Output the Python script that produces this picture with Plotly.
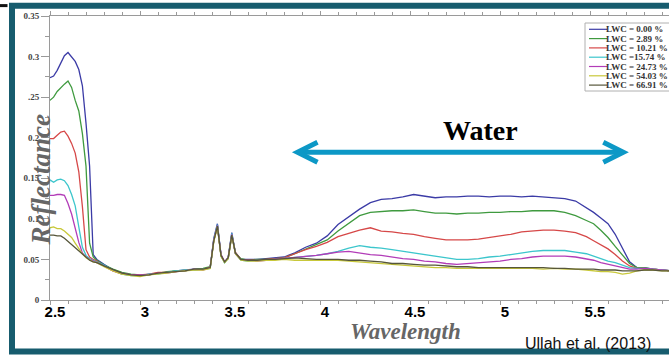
import plotly.graph_objects as go

# ---------------- data ----------------
wavelength = [2.50, 2.52, 2.54, 2.56, 2.58, 2.60, 2.62, 2.64, 2.66, 2.68, 2.70, 2.72, 2.74, 2.76,
              2.80, 2.85, 2.90, 2.95, 3.00, 3.05, 3.10, 3.15, 3.20, 3.25, 3.30, 3.35, 3.39, 3.41,
              3.43, 3.45, 3.47, 3.49, 3.51, 3.53, 3.56, 3.60, 3.65, 3.70, 3.75, 3.80,
              3.86, 3.92, 3.98, 4.04, 4.10, 4.16, 4.22, 4.28, 4.34, 4.40,
              4.46, 4.52, 4.58, 4.64, 4.70, 4.76, 4.82, 4.88, 4.94, 5.00,
              5.06, 5.12, 5.18, 5.24, 5.30, 5.36, 5.42, 5.48, 5.52, 5.56,
              5.60, 5.64, 5.68, 5.72, 5.76, 5.80, 5.85, 5.90, 5.95]

lwc_labels = ["LWC = 0.00 %", "LWC = 2.89 %", "LWC = 10.21 %", "LWC =15.74 %",
              "LWC = 24.73 %", "LWC = 54.03 %", "LWC = 66.91 %"]

refl_lwc_0 = [0.274, 0.276, 0.283, 0.292, 0.301, 0.305, 0.300, 0.294, 0.284, 0.264, 0.218, 0.165, 0.056, 0.050,
              0.044, 0.037, 0.033, 0.031, 0.030, 0.032, 0.033, 0.034, 0.036, 0.037, 0.038, 0.038, 0.040, 0.076,
              0.094, 0.056, 0.046, 0.053, 0.083, 0.057, 0.050, 0.050, 0.050, 0.051, 0.052, 0.053,
              0.058, 0.065, 0.070, 0.079, 0.093, 0.103, 0.112, 0.120, 0.124, 0.125,
              0.127, 0.130, 0.128, 0.126, 0.127, 0.127, 0.128, 0.128, 0.127, 0.128,
              0.128, 0.127, 0.128, 0.127, 0.126, 0.125, 0.122, 0.114, 0.108, 0.101,
              0.094, 0.081, 0.064, 0.047, 0.040, 0.040, 0.038, 0.037, 0.036]
refl_lwc_1 = [0.246, 0.250, 0.257, 0.262, 0.266, 0.270, 0.262, 0.246, 0.233, 0.205, 0.165, 0.070, 0.053, 0.049,
              0.043, 0.038, 0.034, 0.032, 0.031, 0.031, 0.033, 0.035, 0.036, 0.036, 0.038, 0.039, 0.041, 0.073,
              0.092, 0.054, 0.047, 0.051, 0.080, 0.058, 0.051, 0.049, 0.050, 0.050, 0.051, 0.052,
              0.057, 0.063, 0.068, 0.074, 0.085, 0.095, 0.104, 0.108, 0.109, 0.110,
              0.110, 0.111, 0.109, 0.107, 0.107, 0.106, 0.107, 0.107, 0.108, 0.108,
              0.109, 0.109, 0.110, 0.110, 0.110, 0.108, 0.104, 0.098, 0.094, 0.086,
              0.077, 0.066, 0.055, 0.045, 0.040, 0.040, 0.038, 0.037, 0.036]
refl_lwc_2 = [0.199, 0.199, 0.203, 0.207, 0.208, 0.202, 0.193, 0.181, 0.158, 0.115, 0.062, 0.053, 0.050, 0.048,
              0.042, 0.036, 0.032, 0.031, 0.031, 0.032, 0.034, 0.034, 0.035, 0.037, 0.037, 0.038, 0.040, 0.074,
              0.090, 0.055, 0.047, 0.052, 0.081, 0.059, 0.050, 0.049, 0.049, 0.050, 0.051, 0.052,
              0.057, 0.062, 0.066, 0.071, 0.078, 0.082, 0.086, 0.089, 0.085, 0.084,
              0.082, 0.081, 0.078, 0.076, 0.074, 0.074, 0.074, 0.075, 0.077, 0.079,
              0.081, 0.084, 0.085, 0.086, 0.086, 0.085, 0.083, 0.078, 0.073, 0.068,
              0.063, 0.056, 0.048, 0.042, 0.039, 0.039, 0.038, 0.037, 0.036]
refl_lwc_3 = [0.148, 0.145, 0.148, 0.149, 0.147, 0.141, 0.130, 0.116, 0.090, 0.065, 0.055, 0.051, 0.049, 0.047,
              0.043, 0.037, 0.032, 0.030, 0.030, 0.032, 0.032, 0.034, 0.036, 0.037, 0.037, 0.038, 0.039, 0.075,
              0.093, 0.055, 0.046, 0.052, 0.082, 0.058, 0.049, 0.048, 0.049, 0.049, 0.050, 0.051,
              0.053, 0.054, 0.055, 0.057, 0.060, 0.064, 0.067, 0.065, 0.064, 0.062,
              0.060, 0.058, 0.056, 0.054, 0.052, 0.050, 0.050, 0.051, 0.053, 0.054,
              0.056, 0.058, 0.060, 0.061, 0.061, 0.061, 0.059, 0.057, 0.054, 0.051,
              0.048, 0.046, 0.043, 0.040, 0.039, 0.039, 0.038, 0.037, 0.036]
refl_lwc_4 = [0.129, 0.129, 0.130, 0.130, 0.129, 0.119, 0.106, 0.089, 0.071, 0.058, 0.053, 0.050, 0.048, 0.046,
              0.042, 0.036, 0.033, 0.031, 0.031, 0.031, 0.033, 0.033, 0.035, 0.036, 0.038, 0.037, 0.040, 0.074,
              0.092, 0.056, 0.047, 0.052, 0.081, 0.057, 0.050, 0.049, 0.048, 0.049, 0.050, 0.051,
              0.052, 0.054, 0.055, 0.057, 0.059, 0.060, 0.058, 0.056, 0.055, 0.053,
              0.051, 0.050, 0.048, 0.047, 0.045, 0.044, 0.045, 0.046, 0.047, 0.048,
              0.050, 0.051, 0.053, 0.054, 0.054, 0.054, 0.053, 0.051, 0.049, 0.046,
              0.044, 0.042, 0.040, 0.038, 0.038, 0.039, 0.038, 0.037, 0.036]
refl_lwc_5 = [0.089, 0.090, 0.088, 0.088, 0.085, 0.081, 0.077, 0.070, 0.063, 0.057, 0.052, 0.049, 0.047, 0.046,
              0.041, 0.036, 0.032, 0.030, 0.029, 0.031, 0.032, 0.033, 0.035, 0.036, 0.037, 0.037, 0.039, 0.072,
              0.090, 0.054, 0.046, 0.051, 0.079, 0.057, 0.049, 0.048, 0.048, 0.049, 0.049, 0.050,
              0.049, 0.049, 0.049, 0.049, 0.049, 0.048, 0.047, 0.046, 0.045, 0.044,
              0.043, 0.042, 0.041, 0.040, 0.040, 0.039, 0.039, 0.039, 0.039, 0.039,
              0.039, 0.039, 0.039, 0.038, 0.039, 0.038, 0.038, 0.037, 0.036, 0.035,
              0.035, 0.034, 0.032, 0.033, 0.036, 0.037, 0.037, 0.036, 0.036]
refl_lwc_6 = [0.080, 0.080, 0.079, 0.079, 0.076, 0.072, 0.068, 0.064, 0.060, 0.056, 0.052, 0.049, 0.047, 0.046,
              0.042, 0.037, 0.033, 0.031, 0.030, 0.031, 0.033, 0.034, 0.035, 0.036, 0.038, 0.038, 0.040, 0.073,
              0.091, 0.055, 0.047, 0.052, 0.080, 0.058, 0.050, 0.049, 0.049, 0.050, 0.050, 0.051,
              0.052, 0.051, 0.050, 0.050, 0.050, 0.049, 0.049, 0.048, 0.047, 0.045,
              0.045, 0.044, 0.043, 0.043, 0.042, 0.041, 0.041, 0.040, 0.040, 0.040,
              0.040, 0.040, 0.040, 0.040, 0.039, 0.039, 0.038, 0.038, 0.038, 0.037,
              0.037, 0.037, 0.036, 0.036, 0.036, 0.037, 0.037, 0.036, 0.036]

series = [refl_lwc_0, refl_lwc_1, refl_lwc_2, refl_lwc_3, refl_lwc_4, refl_lwc_5, refl_lwc_6]
colors = ["#3b3ba6", "#3f9a3f", "#d64848", "#3cc6cc", "#b23cb8", "#c8c83a", "#56563a"]

x_tick_vals = [2.5, 3.0, 3.5, 4.0, 4.5, 5.0, 5.5]
x_tick_text = ["2.5", "3", "3.5", "4", "4.5", "5", "5.5"]
y_tick_vals = [0, 0.05, 0.10, 0.15, 0.20, 0.25, 0.30, 0.35]
y_tick_text = ["0", "0.05", "0.1", "0.15", "0.2", ".25", "0.3", "0.35"]

water_span = [3.875, 5.685]   # wavelength extent of the "Water" arrow
water_level = 0.182           # reflectance level of the arrow

# ---------------- layout geometry ----------------
W, H = 669, 355
ML, MT, MB, MR = 50, 16, 55, 0
PW, PH = W - ML - MR, H - MT - MB
PX_PER_UM = 180.0


def px(x):
    return (x - ML) / PW


def py(y):
    return 1 - (y - MT) / PH


fig = go.Figure()
for vals, name, col in zip(series, lwc_labels, colors):
    fig.add_trace(go.Scatter(x=wavelength, y=vals, mode="lines", name=name,
                             line=dict(color=col, width=1.3), showlegend=False,
                             hoverinfo="skip"))

axis_col = "#9a9a9a"
frame_col = "#175c6e"
arrow_col = "#0c98c6"

shapes = []
# outer teal frame
shapes.append(dict(type="rect", xref="paper", yref="paper",
                   x0=px(12), x1=px(720), y0=py(351.5), y1=py(5.8),
                   line=dict(color=frame_col, width=6), layer="above"))
# small black mark top-left
shapes.append(dict(type="line", xref="paper", yref="paper",
                   x0=px(0), x1=px(7.5), y0=py(5.6), y1=py(5.6),
                   line=dict(color="#111111", width=3)))

# water arrow
x0, x1 = water_span
y0 = water_level
arm_dx, arm_dy = 20 / PX_PER_UM, 10.0 / 810.0
shapes.append(dict(type="line", xref="x", yref="y", x0=x0 + 0.02, x1=x1 - 0.02, y0=y0, y1=y0,
                   line=dict(color=arrow_col, width=5)))
shapes.append(dict(type="path", xref="x", yref="y",
                   path=f"M {x0 + arm_dx},{y0 + arm_dy} L {x0},{y0} L {x0 + arm_dx},{y0 - arm_dy}",
                   line=dict(color=arrow_col, width=5)))
shapes.append(dict(type="path", xref="x", yref="y",
                   path=f"M {x1 - arm_dx},{y0 + arm_dy} L {x1},{y0} L {x1 - arm_dx},{y0 - arm_dy}",
                   line=dict(color=arrow_col, width=5)))

# custom compact legend
shapes.append(dict(type="rect", xref="paper", yref="paper",
                   x0=px(585), x1=px(690), y0=py(91), y1=py(23),
                   line=dict(color="#b0b0b0", width=1), fillcolor="white", layer="above"))

annotations = []
for i, (name, col) in enumerate(zip(lwc_labels, colors)):
    yy = 29.3 + 9.3 * i
    shapes.append(dict(type="line", xref="paper", yref="paper",
                       x0=px(589), x1=px(607), y0=py(yy), y1=py(yy),
                       line=dict(color=col, width=1.2), layer="above"))
    annotations.append(dict(xref="paper", yref="paper", x=px(604), y=py(yy),
                            xanchor="left", yanchor="middle", showarrow=False,
                            text=f"<b>{name}</b>",
                            font=dict(family="Liberation Serif", size=9, color="#333333")))

annotations += [
    dict(xref="paper", yref="paper", x=px(40.5), y=py(180), textangle=-90,
         xanchor="center", yanchor="middle", showarrow=False,
         text="<b><i>Reflectance</i></b>",
         font=dict(family="Liberation Serif", size=27, color="#666666")),
    dict(xref="paper", yref="paper", x=px(405), y=py(331),
         xanchor="center", yanchor="middle", showarrow=False,
         text="<b><i>Wavelength</i></b>",
         font=dict(family="Liberation Serif", size=23, color="#666666")),
    dict(xref="paper", yref="paper", x=px(480), y=py(130),
         xanchor="center", yanchor="middle", showarrow=False,
         text="<b>Water</b>",
         font=dict(family="Liberation Serif", size=28, color="#000000")),
    dict(xref="paper", yref="paper", x=px(588), y=py(343),
         xanchor="center", yanchor="middle", showarrow=False,
         text="Ullah et al. (2013)",
         font=dict(family="Liberation Sans", size=16, color="#111111")),
]

fig.update_layout(
    width=W, height=H,
    margin=dict(l=ML, r=MR, t=MT, b=MB, pad=0),
    paper_bgcolor="white", plot_bgcolor="white",
    showlegend=False,
    shapes=shapes, annotations=annotations,
    xaxis=dict(range=[2.5, 2.5 + PW / PX_PER_UM], tickvals=x_tick_vals, ticktext=x_tick_text,
               ticks="outside", ticklen=4, tickcolor=axis_col, tickwidth=1,
               showline=True, linecolor=axis_col, linewidth=1, mirror="ticks",
               showgrid=False, zeroline=False, ticklabelshift=5, ticklabelstandoff=-6,
               minor=dict(tick0=2.5, dtick=0.1, ticks="outside", ticklen=3,
                          tickcolor=axis_col, showgrid=False),
               tickfont=dict(family="Liberation Sans", size=15, color="#000000", weight="bold")),
    yaxis=dict(range=[0, 0.35], tickvals=y_tick_vals, ticktext=y_tick_text,
               ticks="outside", ticklen=8, tickcolor=axis_col, tickwidth=1,
               showline=True, linecolor=axis_col, linewidth=1,
               showgrid=False, zeroline=False,
               minor=dict(dtick=0.025, ticks="outside", ticklen=4,
                          tickcolor=axis_col, showgrid=False),
               tickfont=dict(family="Liberation Serif", size=9, color="#444444", weight="bold")),
)

fig.write_html("out.html", config={"displayModeBar": False},
               post_script="document.body.style.margin='0';")
